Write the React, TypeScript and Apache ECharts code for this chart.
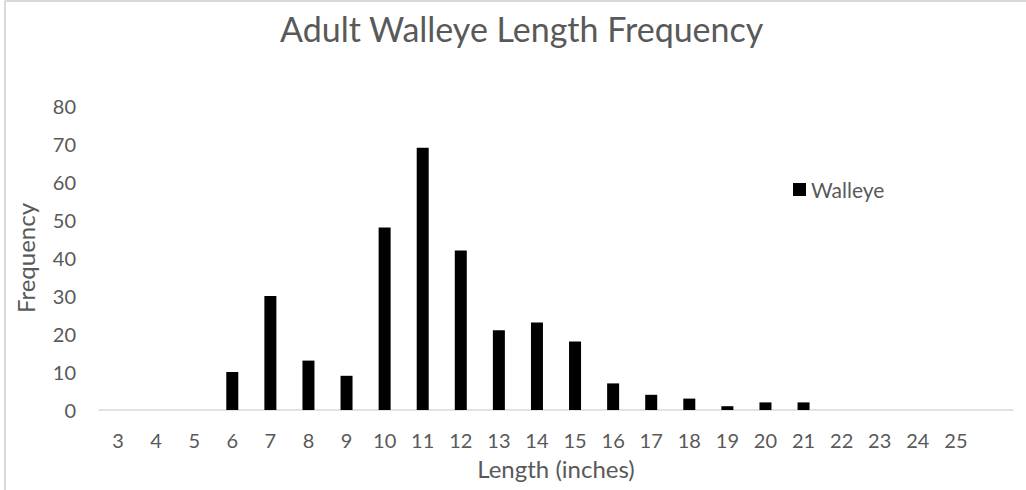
import React, { useEffect, useRef } from "react";
import * as echarts from "echarts";

const titleText = "Adult Walleye Length Frequency";
const xAxisName = "Length (inches)";
const yAxisName = "Frequency";
const seriesName = "Walleye";
const lengths = ["3", "4", "5", "6", "7", "8", "9", "10", "11", "12", "13", "14", "15", "16", "17", "18", "19", "20", "21", "22", "23", "24", "25", ""];
const frequency = [0, 0, 0, 10, 30, 13, 9, 48, 69, 42, 21, 23, 18, 7, 4, 3, 1, 2, 2, 0, 0, 0, 0];
const yTicks = [0, 10, 20, 30, 40, 50, 60, 70, 80];

const FONT = "Lato";
const GRAY = "#595959";

export default function App() {
  const ref = useRef<HTMLDivElement>(null);
  useEffect(() => {
    const chart = echarts.init(ref.current!, null, { renderer: "svg" });
    chart.setOption({
      animation: false,
      backgroundColor: "#ffffff",
      textStyle: { fontFamily: FONT },
      title: {
        text: titleText,
        left: 275,
        top: 6,
        textStyle: { fontFamily: FONT, fontSize: 34, fontWeight: "normal", color: GRAY },
      },
      legend: {
        data: [seriesName],
        left: 788,
        top: 174,
        itemWidth: 13,
        itemHeight: 13,
        itemGap: 6,
        icon: "rect",
        textStyle: { fontFamily: FONT, fontSize: 21, color: GRAY },
      },
      grid: { left: 99, right: 13, top: 106, bottom: 80, containLabel: false },
      xAxis: {
        type: "category",
        data: lengths,
        name: xAxisName,
        nameLocation: "middle",
        nameGap: 46,
        nameTextStyle: { fontFamily: FONT, fontSize: 24, color: GRAY },
        axisLine: { show: true, lineStyle: { color: "#d9d9d9", width: 1.5 } },
        axisTick: { show: false },
        axisLabel: { fontFamily: FONT, fontSize: 20, color: GRAY, margin: 20, interval: 0 },
      },
      yAxis: {
        type: "value",
        min: yTicks[0],
        max: yTicks[yTicks.length - 1],
        interval: yTicks[1] - yTicks[0],
        name: yAxisName,
        nameLocation: "middle",
        nameGap: 62,
        nameRotate: 90,
        nameTextStyle: { fontFamily: FONT, fontSize: 24, color: GRAY },
        axisLine: { show: false },
        axisTick: { show: false },
        splitLine: { show: false },
        axisLabel: { fontFamily: FONT, fontSize: 20, color: GRAY, margin: 23 },
      },
      series: [
        {
          name: seriesName,
          type: "bar",
          data: frequency,
          barWidth: 12,
          itemStyle: { color: "#000000" },
        },
      ],
      graphic: [
        { type: "line", shape: { x1: 5, y1: 1, x2: 5, y2: 490 }, style: { stroke: "#d9d9d9", lineWidth: 2 } },
        { type: "line", shape: { x1: 5, y1: 1, x2: 1026, y2: 1 }, style: { stroke: "#d9d9d9", lineWidth: 2 } },
      ],
    });
    return () => chart.dispose();
  }, []);
  return (
    <div
      ref={ref}
      style={{ position: "absolute", left: 0, top: 0, width: 1026, height: 490 }}
    />
  );
}
